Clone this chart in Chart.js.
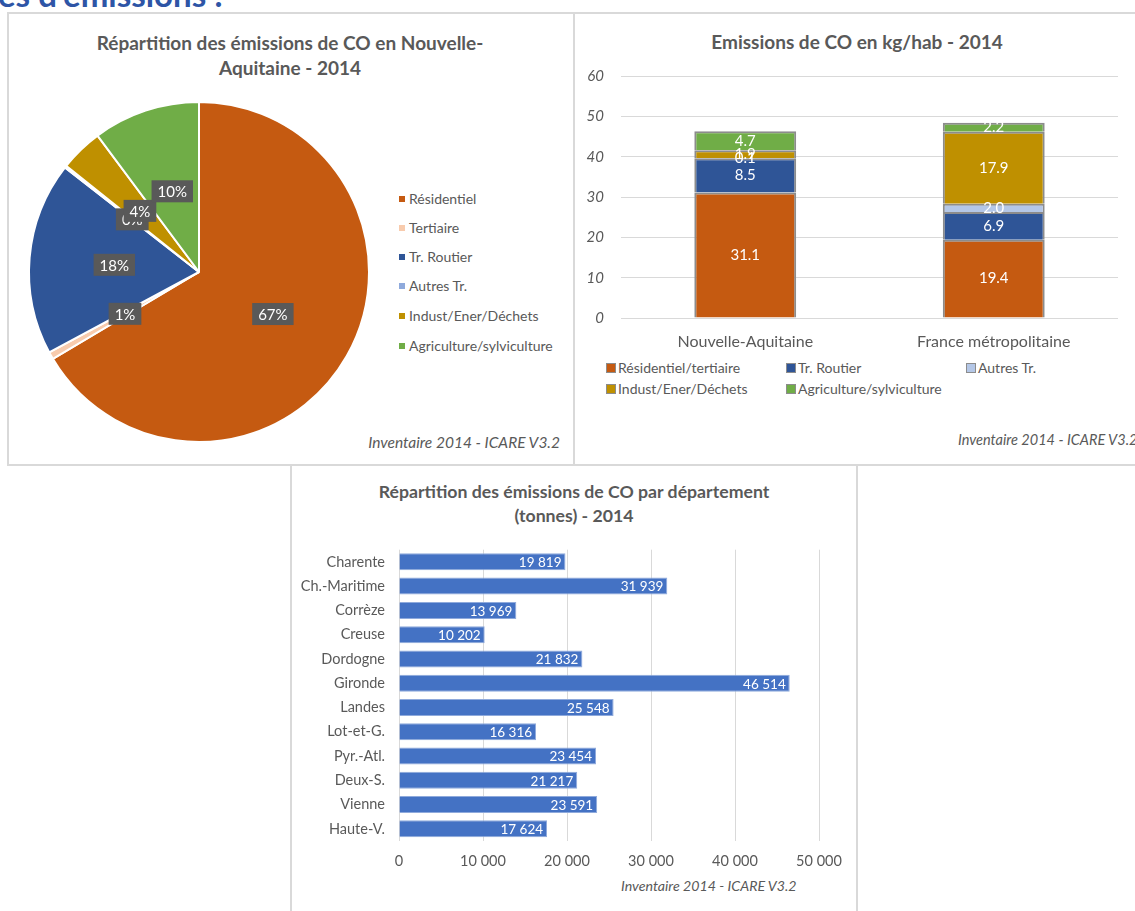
<!DOCTYPE html>
<html><head><meta charset="utf-8">
<script src="https://cdn.jsdelivr.net/npm/chart.js@4.4.1/dist/chart.umd.min.js"></script>
<style>
html,body{margin:0;padding:0;background:#fff;}
body{width:1135px;height:911px;overflow:hidden;position:relative;font-family:Lato,'Noto Sans',sans-serif;color:#595959;}
.ln{position:absolute;background:#d9d9d9;}
.t{position:absolute;white-space:nowrap;}
.title{font-weight:bold;text-align:center;}
.foot{font-style:italic;}
.leg{font-size:14px;line-height:16px;}
.mk{display:inline-block;vertical-align:middle;margin-right:4px;position:relative;top:-1px;}
canvas{position:absolute;}
</style>
</head><body>
<div class="t" id="heading" style="left:-2px;top:-22px;font-size:33px;font-weight:bold;color:#2E55A6;line-height:33px;">es d'émissions :</div>

<div class="ln" style="left:7px;top:12px;width:1128px;height:2px;"></div>
<div class="ln" style="left:7px;top:12px;width:2px;height:454px;"></div>
<div class="ln" style="left:573px;top:12px;width:2px;height:454px;"></div>
<div class="ln" style="left:7px;top:464px;width:1128px;height:2px;"></div>
<div class="ln" style="left:290px;top:464px;width:2px;height:447px;"></div>
<div class="ln" style="left:856px;top:464px;width:2px;height:447px;"></div>

<div class="t title" style="left:8px;width:564px;top:30px;font-size:19px;line-height:25px;">Répartition des émissions de CO en Nouvelle-<br>Aquitaine - 2014</div>
<div class="t title" style="left:575px;width:564px;top:29px;font-size:19px;line-height:25px;">Emissions de CO en kg/hab - 2014</div>
<div class="t title" style="left:292px;width:564px;top:480px;font-size:17.7px;line-height:24px;">Répartition des émissions de CO par département<br>(tonnes) - 2014</div>

<div id="pieLegend"></div>
<div id="barLegend"></div>

<div class="t foot" style="right:575px;top:433px;font-size:15.5px;">Inventaire 2014 - ICARE V3.2</div>
<div class="t foot" style="left:958px;top:431px;font-size:14.5px;">Inventaire 2014 - ICARE V3.2</div>
<div class="t foot" style="left:621px;top:877px;font-size:14.2px;">Inventaire 2014 - ICARE V3.2</div>

<canvas id="pie" width="360" height="360" style="left:19px;top:92px;"></canvas>
<canvas id="stack" width="560" height="310" style="left:575px;top:50px;"></canvas>
<canvas id="hbar" width="564" height="353" style="left:292px;top:527px;"></canvas>

<script>
// ---- Data: pie (share of CO emissions, Nouvelle-Aquitaine 2014, %) ----
const pieLabels = ['Résidentiel','Tertiaire','Tr. Routier','Autres Tr.','Indust/Ener/Déchets','Agriculture/sylviculture'];
const pieValues = [66.6, 0.7, 18.4, 0.2, 4.1, 10.2];
const pieColors = ['#C55A11','#F8CBAD','#2F5597','#8FAADC','#BF9000','#70AD47'];

// ---- Data: stacked bars (kg/hab) ----
const stackCategories = ['Nouvelle-Aquitaine','France métropolitaine'];
const stackSeries = ['Résidentiel/tertiaire','Tr. Routier','Autres Tr.','Indust/Ener/Déchets','Agriculture/sylviculture'];
const residentielTertiaire = [31.1, 19.4];
const trRoutier = [8.5, 6.9];
const autresTr = [0.1, 2.0];
const industEnerDechets = [1.9, 17.9];
const agricultureSylviculture = [4.7, 2.2];
const stackColors = ['#C55A11','#2F5597','#B4C7E7','#BF9000','#70AD47'];
const stackYTicks = [0,10,20,30,40,50,60];

// ---- Data: departments (tonnes) ----
const departements = ['Charente','Ch.-Maritime','Corrèze','Creuse','Dordogne','Gironde','Landes','Lot-et-G.','Pyr.-Atl.','Deux-S.','Vienne','Haute-V.'];
const emissionsTonnes = [19819,31939,13969,10202,21832,46514,25548,16316,23454,21217,23591,17624];
const hbarXTicks = [0,10000,20000,30000,40000,50000];

const FONT = 'Lato';
const GREY = '#595959';
const fmt = v => String(v).replace(/\B(?=(\d{3})+(?!\d))/g, ' ');

// ---- HTML legends ----
(function(){
  const pl = document.getElementById('pieLegend');
  const ys = [199,228,257,286,316,346];
  pieLabels.forEach((l,i)=>{
    const d = document.createElement('div');
    d.className='t leg';
    d.style.left='399px'; d.style.top=(ys[i]-8)+'px';
    d.innerHTML='<span class="mk" style="width:6px;height:6px;background:'+pieColors[i]+'"></span>'+l;
    pl.appendChild(d);
  });
  const bl = document.getElementById('barLegend');
  const pos = [[606,368],[786,368],[966,368],[606,389],[786,389]];
  stackSeries.forEach((l,i)=>{
    const d = document.createElement('div');
    d.className='t leg';
    d.style.left=pos[i][0]+'px'; d.style.top=(pos[i][1]-8)+'px';
    d.innerHTML='<span class="mk" style="width:8px;height:8px;background:'+stackColors[i]+';border:1px solid #8c8c8c;margin-right:2px"></span>'+l;
    bl.appendChild(d);
  });
})();

Chart.defaults.font.family = FONT;
Chart.defaults.color = GREY;

// ---- Pie ----
const pieLabelPlugin = {
  id:'pieLabels',
  afterDatasetsDraw(chart){
    const ctx = chart.ctx;
    const meta = chart.getDatasetMeta(0);
    ctx.save();
    ctx.font = '15px ' + FONT;
    ctx.textAlign='center'; ctx.textBaseline='middle';
    meta.data.forEach((arc,i)=>{
      const p = arc.getProps(['x','y','startAngle','endAngle','outerRadius'], true);
      const mid = (p.startAngle+p.endAngle)/2;
      const r = p.outerRadius*0.5;
      const px = p.x + Math.cos(mid)*r, py = p.y + Math.sin(mid)*r;
      const txt = Math.round(pieValues[i])+'%';
      const w = ctx.measureText(txt).width + 12, h = 22;
      ctx.fillStyle='#595959';
      ctx.fillRect(px-w/2, py-h/2, w, h);
      ctx.fillStyle='#ffffff';
      ctx.fillText(txt, px, py+1);
    });
    ctx.restore();
  }
};
new Chart(document.getElementById('pie'), {
  type:'pie',
  data:{labels:pieLabels, datasets:[{data:pieValues, backgroundColor:pieColors, borderColor:'#ffffff', borderWidth:2, radius:170}]},
  options:{
    responsive:false, animation:false, devicePixelRatio:1,
    layout:{padding:10},
    plugins:{legend:{display:false}, tooltip:{enabled:false}, title:{display:false}}
  },
  plugins:[pieLabelPlugin]
});

// ---- Stacked bars ----
const stackValues = [residentielTertiaire, trRoutier, autresTr, industEnerDechets, agricultureSylviculture];
const stackLabelPlugin = {
  id:'stackLabels',
  afterDatasetsDraw(chart){
    const ctx = chart.ctx;
    ctx.save();
    ctx.font = '15px ' + FONT;
    ctx.textAlign='center'; ctx.textBaseline='middle';
    ctx.fillStyle='#ffffff';
    chart.data.datasets.forEach((ds,di)=>{
      chart.getDatasetMeta(di).data.forEach((el,i)=>{
        const y = (el.y + el.base)/2;
        ctx.fillText(ds.data[i].toFixed(1), el.x, y);
      });
    });
    ctx.restore();
  }
};
new Chart(document.getElementById('stack'), {
  type:'bar',
  data:{
    labels:stackCategories,
    datasets:stackSeries.map((s,i)=>({label:s, data:stackValues[i], backgroundColor:stackColors[i], borderColor:'#8c8c8c', borderWidth:2, barPercentage:0.41, categoryPercentage:1}))
  },
  options:{
    responsive:false, animation:false, devicePixelRatio:1,
    layout:{padding:{top:5,right:17,left:0,bottom:0}},
    plugins:{legend:{display:false}, tooltip:{enabled:false}},
    scales:{
      x:{stacked:true, grid:{display:false, drawTicks:false}, border:{display:false},
         ticks:{padding:14, font:{size:16}, color:GREY},
         afterFit(s){ s.height = 42; }},
      y:{stacked:true, min:0, max:60, afterBuildTicks(s){ s.ticks = stackYTicks.map(v=>({value:v})); },
         grid:{color:'#d9d9d9', lineWidth:1, drawTicks:false}, border:{display:false},
         ticks:{padding:17, font:{size:15, style:'italic'}, color:GREY},
         afterFit(s){ s.width = 46; }}
    }
  },
  plugins:[stackLabelPlugin]
});

// ---- Horizontal bars ----
const hbarLabelPlugin = {
  id:'hbarLabels',
  afterDatasetsDraw(chart){
    const ctx = chart.ctx;
    ctx.save();
    ctx.font = '13.5px ' + FONT;
    ctx.textAlign='right'; ctx.textBaseline='middle';
    ctx.fillStyle='#ffffff';
    chart.getDatasetMeta(0).data.forEach((el,i)=>{
      ctx.fillText(fmt(emissionsTonnes[i]), el.x - 4, el.y + 1);
    });
    ctx.restore();
  }
};
new Chart(document.getElementById('hbar'), {
  type:'bar',
  data:{labels:departements, datasets:[{data:emissionsTonnes, backgroundColor:'#4472C4', borderColor:'#8FAADC', borderWidth:1, barPercentage:0.7, categoryPercentage:1}]},
  options:{
    indexAxis:'y',
    responsive:false, animation:false, devicePixelRatio:1,
    layout:{padding:{top:17,right:37,left:0,bottom:0}},
    plugins:{legend:{display:false}, tooltip:{enabled:false}},
    scales:{
      x:{min:0, max:50000, afterBuildTicks(s){ s.ticks = hbarXTicks.map(v=>({value:v})); },
         grid:{color:'#d9d9d9', lineWidth:1, drawTicks:false}, border:{display:false},
         ticks:{padding:12, font:{size:14.5}, color:GREY, callback:v=>fmt(v)},
         afterFit(s){ s.height = 39; }},
      y:{grid:{display:false, drawTicks:false}, border:{display:false},
         ticks:{padding:14, font:{size:14.5}, color:GREY},
         afterFit(s){ s.width = 107; }}
    }
  },
  plugins:[hbarLabelPlugin]
});
</script>
</body></html>
